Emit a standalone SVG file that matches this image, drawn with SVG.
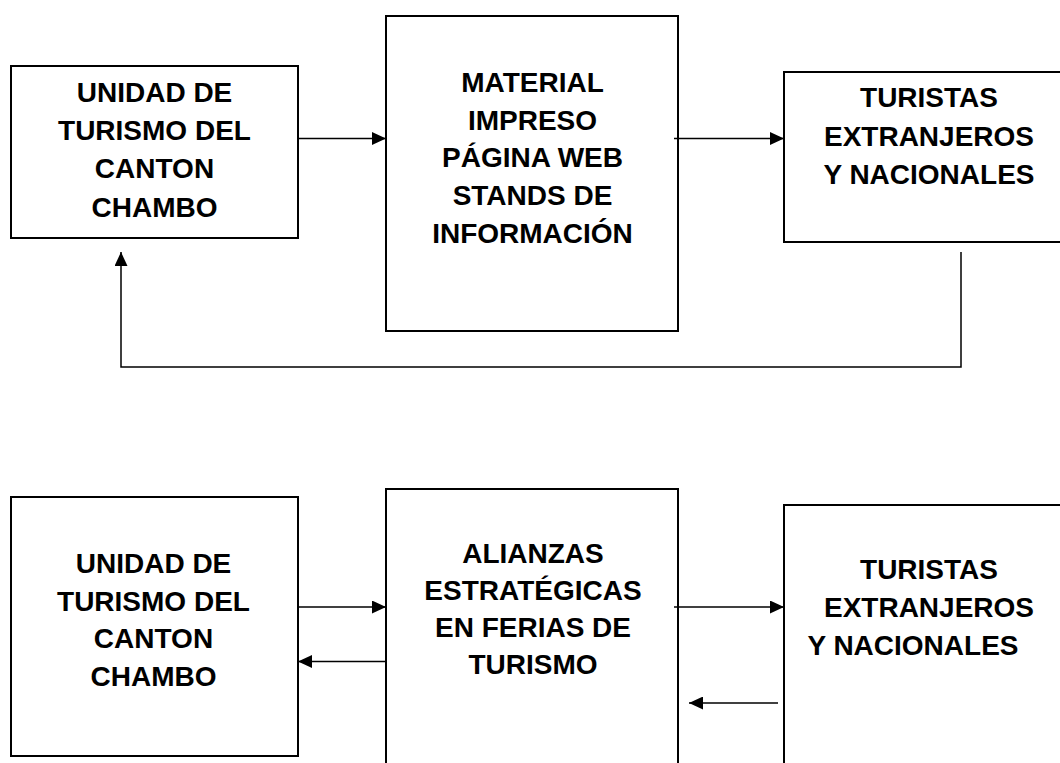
<svg xmlns="http://www.w3.org/2000/svg" width="1060" height="763" viewBox="0 0 1060 763">
  <style>
    .box { fill: #ffffff; stroke: #000000; stroke-width: 2; }
    .lbl { font-family: "Liberation Sans", Arial, sans-serif; font-weight: bold; font-size: 28px; fill: #000000; text-anchor: middle; }
    .conn { fill: none; stroke: #000000; stroke-width: 1.5; }
  </style>
  <defs>
    <marker id="ah" viewBox="0 0 14 13" refX="14" refY="6.5" markerWidth="14" markerHeight="13" markerUnits="userSpaceOnUse" orient="auto">
      <path d="M0,0 L14,6.5 L0,13 Z" fill="#000000"/>
    </marker>
  </defs>
  <rect width="1060" height="763" fill="#ffffff"/>

  <!-- Top diagram -->
  <g id="top-unidad">
    <rect class="box" x="11" y="66" width="287" height="172"/>
    <text class="lbl" x="154.5" y="101.7">UNIDAD DE</text>
    <text class="lbl" x="154.5" y="140">TURISMO DEL</text>
    <text class="lbl" x="154.5" y="178.3">CANTON</text>
    <text class="lbl" x="154.5" y="216.5">CHAMBO</text>
  </g>
  <g id="top-material">
    <rect class="box" x="386" y="16" width="292" height="315"/>
    <text class="lbl" x="532.5" y="91.7">MATERIAL</text>
    <text class="lbl" x="532.5" y="129.5">IMPRESO</text>
    <text class="lbl" x="532.5" y="167">PÁGINA WEB</text>
    <text class="lbl" x="532.5" y="204.5">STANDS DE</text>
    <text class="lbl" x="532.5" y="242.5">INFORMACIÓN</text>
  </g>
  <g id="top-turistas">
    <rect class="box" x="784" y="72" width="292" height="170"/>
    <text class="lbl" x="929" y="107.3">TURISTAS</text>
    <text class="lbl" x="929" y="146">EXTRANJEROS</text>
    <text class="lbl" x="929" y="184">Y NACIONALES</text>
  </g>

  <!-- Bottom diagram -->
  <g id="bottom-unidad">
    <rect class="box" x="11" y="497" width="287" height="259"/>
    <text class="lbl" x="153.5" y="573.3">UNIDAD DE</text>
    <text class="lbl" x="153.5" y="610.7">TURISMO DEL</text>
    <text class="lbl" x="153.5" y="648.3">CANTON</text>
    <text class="lbl" x="153.5" y="685.5">CHAMBO</text>
  </g>
  <g id="bottom-alianzas">
    <rect class="box" x="386" y="489" width="292" height="290"/>
    <text class="lbl" x="533" y="562.7">ALIANZAS</text>
    <text class="lbl" x="533" y="600">ESTRATÉGICAS</text>
    <text class="lbl" x="533" y="637.3">EN FERIAS DE</text>
    <text class="lbl" x="533" y="674.3">TURISMO</text>
  </g>
  <g id="bottom-turistas">
    <rect class="box" x="784" y="505" width="292" height="280"/>
    <text class="lbl" x="929" y="579.3">TURISTAS</text>
    <text class="lbl" x="929" y="616.7">EXTRANJEROS</text>
    <text class="lbl" x="913" y="655">Y NACIONALES</text>
  </g>

  <g id="connectors">
    <line class="conn" x1="298" y1="138.5" x2="386" y2="138.5" marker-end="url(#ah)"/>
    <line class="conn" x1="674" y1="138.5" x2="784" y2="138.5" marker-end="url(#ah)"/>
    <polyline class="conn" points="961,252 961,367 121,367 121,252" marker-end="url(#ah)"/>
    <line class="conn" x1="298" y1="607" x2="386" y2="607" marker-end="url(#ah)"/>
    <line class="conn" x1="386" y1="661.5" x2="298" y2="661.5" marker-end="url(#ah)"/>
    <line class="conn" x1="674" y1="607" x2="784" y2="607" marker-end="url(#ah)"/>
    <line class="conn" x1="778" y1="703" x2="689" y2="703" marker-end="url(#ah)"/>
  </g>
</svg>
